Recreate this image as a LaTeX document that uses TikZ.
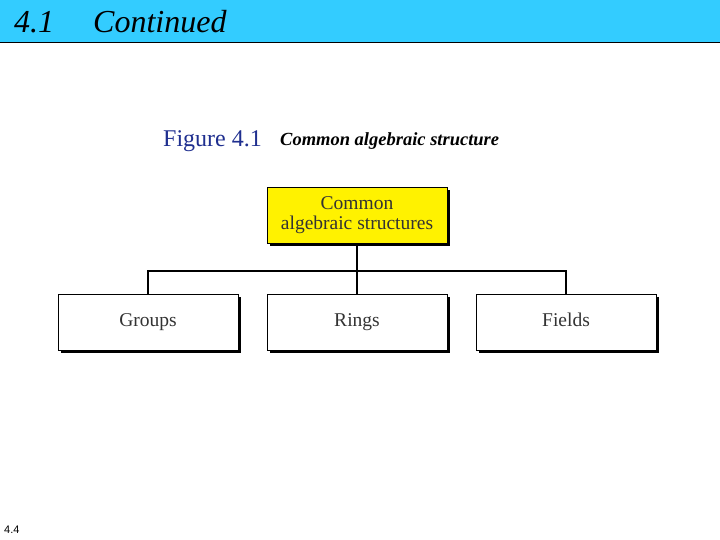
\documentclass[tikz,border=0pt]{standalone}
\usepackage{fontspec}
\setmainfont{Liberation Serif}
\newfontfamily\arialf{Liberation Sans}
\definecolor{hdr}{HTML}{33CCFF}
\definecolor{figblue}{HTML}{1F2F8F}
\begin{document}
\begin{tikzpicture}[x=1pt,y=-1pt,
  box/.style={draw=black,line width=0.8pt,minimum width=180pt,minimum height=56pt,inner sep=0pt,font=\fontsize{19.5}{21}\selectfont,text=black!80,align=center},
  shadowbox/.style={fill=black,minimum width=180pt,minimum height=56pt,inner sep=0pt},
  conn/.style={line width=1.4pt}]
\useasboundingbox (0,0) rectangle (720,540);
\fill[hdr] (0,0) rectangle (720,42);
\draw[line width=0.8pt] (0,42) -- (720,42);
\node[anchor=base west,inner sep=0pt,font=\fontsize{32}{34}\selectfont\itshape] (t1) at (14,33) {4.1};
\node[anchor=base west,inner sep=0pt,font=\fontsize{32}{34}\selectfont\itshape] (t2) at (93,33) {Continued};
\node[anchor=base west,font=\fontsize{24}{26}\selectfont,text=figblue,inner sep=0pt] (f1) at (163,147) {Figure 4.1};
\node[anchor=base west,font=\fontsize{18.5}{20}\selectfont\bfseries\itshape,inner sep=0pt] (f2) at (280,146) {Common algebraic structure};
\node[anchor=base west,font=\arialf\fontsize{11}{12}\selectfont,inner sep=0pt] (pg) at (4,533) {4.4};
\foreach \n/\x/\y in {s0/360/218,s1/151/325,s2/360/325,s3/569/325}
  \node[shadowbox] (\n) at (\x,\y) {};
\node[box,fill=yellow] (top) at (357,215) {Common\\[-1pt]algebraic structures};
\node[box,fill=white] (g) at (148,322) {\strut Groups};
\node[box,fill=white] (r) at (357,322) {\strut Rings};
\node[box,fill=white] (fl) at (566,322) {\strut Fields};
\coordinate (j) at (357,271);
\draw[conn] (top.south) -- (r.north);
\draw[conn] (g.north) |- (j) -| (fl.north);
\end{tikzpicture}
\end{document}
